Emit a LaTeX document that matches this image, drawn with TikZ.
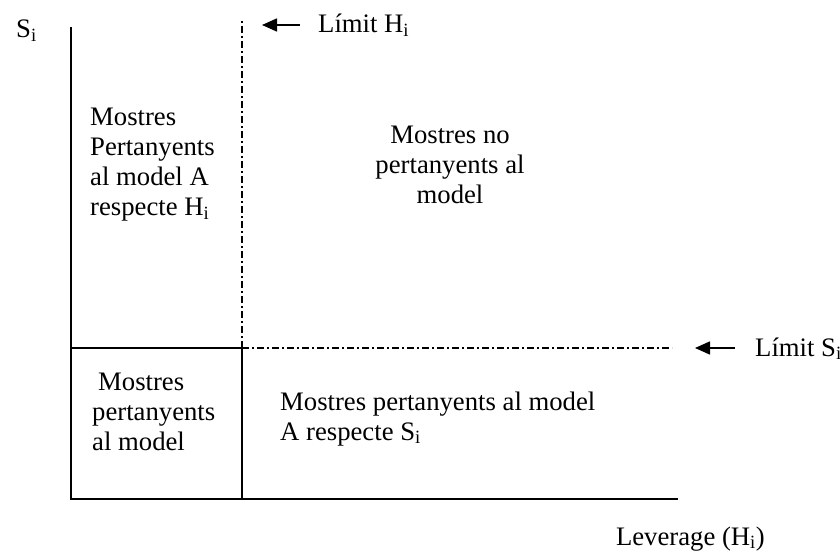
\documentclass[tikz,border=0pt]{standalone}
\usepackage{fontspec}
\setmainfont{Liberation Serif}
\usetikzlibrary{arrows.meta}
\newcommand{\lowi}{\textsubscript{i}}
\begin{document}
\begin{tikzpicture}[x=1pt,y=-1pt,
  txt/.style={inner sep=0pt,font=\fontsize{26.7}{30}\selectfont},
  axisline/.style={line width=1.4pt},
  dashdot/.style={line width=1.2pt,dash pattern=on 7pt off 3pt on 2pt off 3pt},
  pointer/.style={line width=1.6pt,-{Triangle[length=15pt,width=13pt]}}]
\useasboundingbox (0,0) rectangle (840,553);
% coordinates
\coordinate (top) at (71,27);
\coordinate (orig) at (71,499);
\coordinate (xend) at (678,499);
\coordinate (mid) at (242,348);
\coordinate (midb) at (242,499);
\coordinate (midl) at (71,348);
\coordinate (vtop) at (242,20);
\coordinate (hend) at (672,348);
\coordinate (a1s) at (300,25);
\coordinate (a1e) at (262,25);
\coordinate (a2s) at (735,348);
\coordinate (a2e) at (695,348);
% axes and lines
\draw[axisline] (top) -- (orig) -- (xend);
\draw[axisline] (midl) -- (mid) -- (midb);
\draw[dashdot] (mid) -- (vtop);
\draw[dashdot] (mid) -- (hend);
\draw[pointer] (a1s) -- (a1e);
\draw[pointer] (a2s) -- (a2e);
% labels
\node[txt,anchor=base west] (si) at (16,38) {S\lowi};
\node[txt,anchor=base west] (lh) at (318,33) {Límit H\lowi};
\node[txt,anchor=base west] (ls) at (755,356) {Límit S\lowi};
\node[txt,anchor=base east] (lev) at (765,545) {Leverage (H\lowi)};
\node[txt,anchor=base west,align=left] (ma) at (90,216) {Mostres\\Pertanyents\\al model A\\respecte H\lowi};
\node[txt,anchor=base,align=center] (mn) at (450,204) {Mostres no\\pertanyents al\\model};
\node[txt,anchor=base west,align=left] (mp) at (92,450) {\hspace{6pt}Mostres\\pertanyents\\al model};
\node[txt,anchor=base west,align=left] (ms) at (280,440) {Mostres pertanyents al model\\A respecte S\lowi};
\end{tikzpicture}
\end{document}
